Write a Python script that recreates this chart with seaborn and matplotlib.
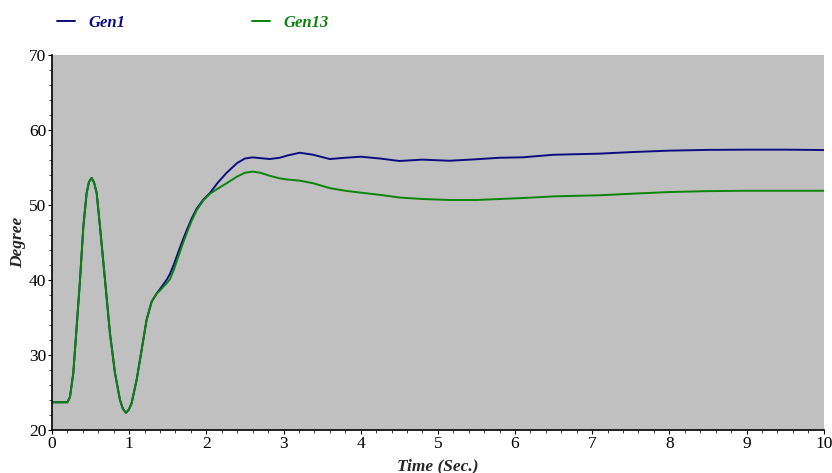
import matplotlib
matplotlib.use("Agg")
import matplotlib.pyplot as plt
import seaborn as sns
import pandas as pd
from matplotlib.ticker import MultipleLocator

# Rotor angle response of two generators after a disturbance
time = [0, 0.2, 0.233, 0.276, 0.32, 0.363, 0.406, 0.449, 0.48, 0.514, 0.545,
        0.579, 0.622, 0.687, 0.751, 0.816, 0.881, 0.92, 0.958, 0.995, 1.032,
        1.097, 1.162, 1.226, 1.291, 1.356, 1.40, 1.442, 1.49, 1.528, 1.58, 1.636,
        1.69, 1.744, 1.81, 1.874, 1.96, 2.047, 2.15, 2.263, 2.4, 2.5, 2.6, 2.7,
        2.82, 2.95, 3.05, 3.21, 3.385, 3.6, 3.8, 4.0, 4.25, 4.5, 4.8, 5.15, 5.5,
        5.8, 6.1, 6.5, 7.1, 7.5, 8.0, 8.5, 9.0, 9.5, 10.0]

gen1 = [23.7, 23.7, 24.4, 27.6, 33.8, 40.0, 47.1, 51.6, 53.1, 53.6, 53.0,
        51.6, 47.1, 40.0, 32.9, 27.6, 24.0, 22.8, 22.3, 22.7, 23.6,
        26.7, 30.7, 34.7, 37.1, 38.2, 38.8, 39.4, 40.1, 40.8, 42.1, 43.7,
        45.2, 46.6, 48.2, 49.5, 50.7, 51.6, 53.0, 54.3, 55.6, 56.2, 56.35, 56.25,
        56.13, 56.3, 56.6, 56.97, 56.7, 56.13, 56.3, 56.44, 56.2, 55.87, 56.05, 55.9, 56.1,
        56.3, 56.36, 56.7, 56.85, 57.05, 57.25, 57.35, 57.38, 57.38, 57.33]

gen13 = [23.7, 23.7, 24.4, 27.6, 33.8, 40.0, 47.1, 51.6, 53.1, 53.6, 53.0,
         51.6, 47.1, 40.0, 32.9, 27.6, 24.0, 22.8, 22.3, 22.7, 23.6,
         26.7, 30.7, 34.7, 37.1, 38.2, 38.6, 39.1, 39.6, 40.1, 41.4, 43.1,
         44.7, 46.2, 47.9, 49.3, 50.6, 51.5, 52.2, 52.9, 53.8, 54.3, 54.45, 54.3,
         53.9, 53.55, 53.4, 53.25, 52.9, 52.25, 51.9, 51.65, 51.35, 51.0, 50.8, 50.67, 50.67,
         50.8, 50.93, 51.15, 51.3, 51.5, 51.73, 51.85, 51.9, 51.9, 51.9]

series_names = ["Gen1", "Gen13"]
series_colors = ["#0c0c80", "#0b840b"]

df = pd.DataFrame({"Time": time * 2,
                   "Degree": gen1 + gen13,
                   "Series": [series_names[0]] * len(time) + [series_names[1]] * len(time)})

sns.set_style("white")
plt.rcParams["font.family"] = ["Liberation Serif", "DejaVu Serif"]

fig = plt.figure(figsize=(8.32, 4.73), dpi=100)
ax = fig.add_axes([0.0625, 0.0909, 0.9275, 0.7928])
ax.set_facecolor("#c0c0c0")

sns.lineplot(data=df, x="Time", y="Degree", hue="Series",
             palette=dict(zip(series_names, series_colors)),
             linewidth=1.4, ax=ax, legend=False, sort=False)

ax.set_xlim(0, 10)
ax.set_ylim(20, 70)
ax.xaxis.set_major_locator(MultipleLocator(1))
ax.xaxis.set_minor_locator(MultipleLocator(0.2))
ax.yaxis.set_major_locator(MultipleLocator(10))
ax.yaxis.set_minor_locator(MultipleLocator(2))
ax.tick_params(which="major", direction="out", length=3, width=0.8,
               labelsize=12.5, pad=1, colors="black", bottom=True, left=True)
ax.tick_params(which="minor", direction="out", length=2, width=0.6,
               bottom=True, left=True)

for side in ["top", "right"]:
    ax.spines[side].set_visible(False)
for side in ["left", "bottom"]:
    ax.spines[side].set_color("black")
    ax.spines[side].set_linewidth(1.2)

ax.set_xlabel("Time (Sec.)", fontsize=12.5, fontweight="bold", fontstyle="italic", labelpad=5)
ax.set_ylabel("Degree", fontsize=12.5, fontweight="bold", fontstyle="italic", labelpad=2)

handles = [plt.Line2D([], [], color=c, linewidth=1.4) for c in series_colors]
leg = fig.legend(handles, series_names, loc="upper left", bbox_to_anchor=(0.05, 1.0),
                 ncol=2, frameon=False, handlelength=1.1, handletextpad=0.8,
                 columnspacing=7.6, prop={"size": 12, "weight": "bold", "style": "italic"},
                 labelcolor="linecolor")

fig.savefig("out.png", dpi=100)
